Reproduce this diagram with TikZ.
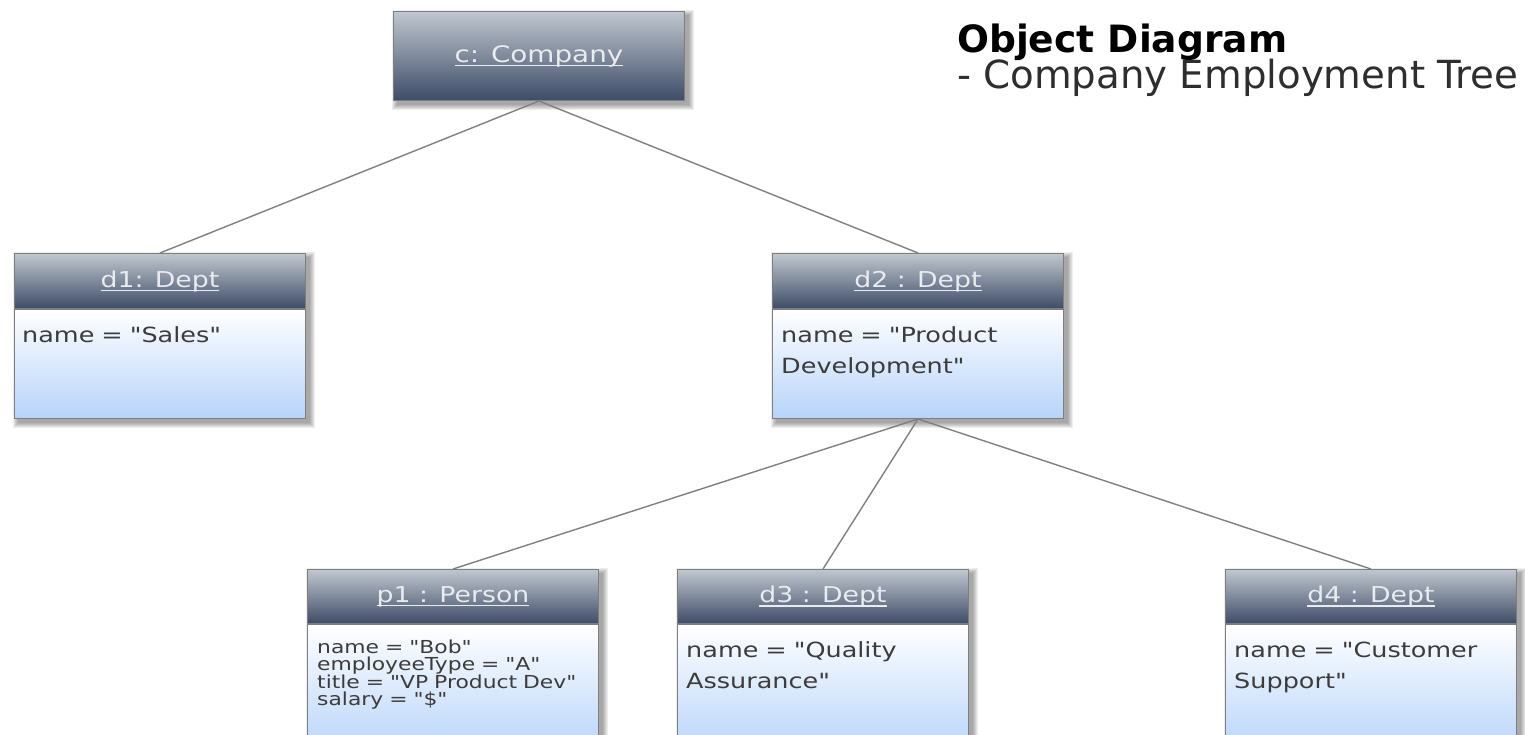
\documentclass[tikz,border=0pt]{standalone}
\usepackage{fontspec}
\setmainfont{DejaVu Sans}[FakeStretch=1.22, Ligatures=TeXOff]
\newfontfamily\titlefont{DejaVu Sans}[Ligatures=TeXOff]
\usetikzlibrary{backgrounds}

\definecolor{hdrtop}{HTML}{C0C7CE}
\definecolor{hdrbot}{HTML}{3E4C67}
\definecolor{bodytop}{HTML}{FFFFFF}
\definecolor{bodybot}{HTML}{B7D3FA}
\definecolor{frame}{HTML}{7E7E7E}
\definecolor{hdrtext}{HTML}{E8EBEF}
\definecolor{attrtext}{HTML}{3C3C3C}
\definecolor{linkgray}{HTML}{808080}
\definecolor{subtext}{HTML}{2E2E2E}

% underlined object name with a rule of visible weight
\newcommand\objname[1]{\setbox0\hbox{#1}\rlap{\rule[-4pt]{\wd0}{1.3pt}}\box0}

% soft drop shadow behind an object (header node #1, body node #2)
\newcommand\objshadow[2]{%
  \foreach \r in {0,1,2,3,4,5}{%
    \fill[black,opacity=0.065] ([shift={(4-\r,4-\r)}]#1.north west) rectangle ([shift={(4+\r,4+\r)}]#2.south east);
  }}

\tikzset{
  hdr/.style={draw=frame, line width=1pt, top color=hdrtop, bottom color=hdrbot,
    minimum width=291pt, anchor=north west, inner sep=0pt, text=hdrtext,
    font=\fontsize{21.9}{26}\selectfont},
  objbody/.style={draw=frame, line width=1pt, top color=bodytop, bottom color=bodybot,
    minimum width=291pt, anchor=north west, inner sep=0pt},
  attr/.style={anchor=base west, inner sep=0pt, text=attrtext, align=left,
    text width=272pt, font=\fontsize{20.9}{31}\selectfont},
  attrsmall/.style={attr, font=\fontsize{17.9}{17.5}\selectfont},
  link/.style={draw=linkgray, line width=1.4pt},
}

\begin{document}
\begin{tikzpicture}[x=1pt,y=-1pt]
\useasboundingbox (0,0) rectangle (1525,735);

% title
\node[anchor=base west, inner sep=0pt, font=\titlefont\bfseries\fontsize{37.6}{44}\selectfont] (title) at (957,53) {Object Diagram};
\node[anchor=base west, inner sep=0pt, text=subtext, font=\titlefont\fontsize{38.7}{44}\selectfont] (subtitle) at (957,89) {- Company Employment Tree};

% c: Company
\node[hdr, minimum height=89pt, font=\fontsize{22.8}{26}\selectfont] (c) at (393,11) {\objname{c: Company}};

% d1: Dept
\node[hdr, minimum height=55pt] (d1) at (14,253) {\objname{d1: Dept}};
\node[objbody, minimum height=109pt] (d1b) at (d1.south west) {};
\node[attr] (d1t) at ([shift={(8,33)}]d1b.north west) {name = "Sales"};

% d2 : Dept
\node[hdr, minimum height=55pt] (d2) at (772,253) {\objname{d2 : Dept}};
\node[objbody, minimum height=109pt] (d2b) at (d2.south west) {};
\node[attr] (d2t) at ([shift={(9,33)}]d2b.north west) {name = "Product\\Development"};

% p1 : Person
\node[hdr, minimum height=54pt] (p1) at (307,569) {\objname{p1 : Person}};
\node[objbody, minimum height=130pt] (p1b) at (p1.south west) {};
\node[attrsmall] (p1t) at ([shift={(10,29)}]p1b.north west)
  {name = "Bob"\\employeeType = "A"\\title = "VP Product Dev"\\salary = "\$"};

% d3 : Dept
\node[hdr, minimum height=54pt] (d3) at (677,569) {\objname{d3 : Dept}};
\node[objbody, minimum height=130pt] (d3b) at (d3.south west) {};
\node[attr] (d3t) at ([shift={(9,33)}]d3b.north west) {name = "Quality\\Assurance"};

% d4 : Dept
\node[hdr, minimum height=54pt] (d4) at (1225,569) {\objname{d4 : Dept}};
\node[objbody, minimum height=130pt] (d4b) at (d4.south west) {};
\node[attr] (d4t) at ([shift={(9,33)}]d4b.north west) {name = "Customer\\Support"};

% links
\draw[link] (c.south) -- (d1.north);
\draw[link] (c.south) -- (d2.north);
\draw[link] (d2b.south) -- (p1.north);
\draw[link] (d2b.south) -- (d3.north);
\draw[link] (d2b.south) -- (d4.north);

% white page and soft shadows underneath everything
\begin{scope}[on background layer]
  \fill[white] (0,0) rectangle (1525,735);
  \objshadow{c}{c}
  \objshadow{d1}{d1b}
  \objshadow{d2}{d2b}
  \objshadow{p1}{p1b}
  \objshadow{d3}{d3b}
  \objshadow{d4}{d4b}
\end{scope}
\end{tikzpicture}
\end{document}
